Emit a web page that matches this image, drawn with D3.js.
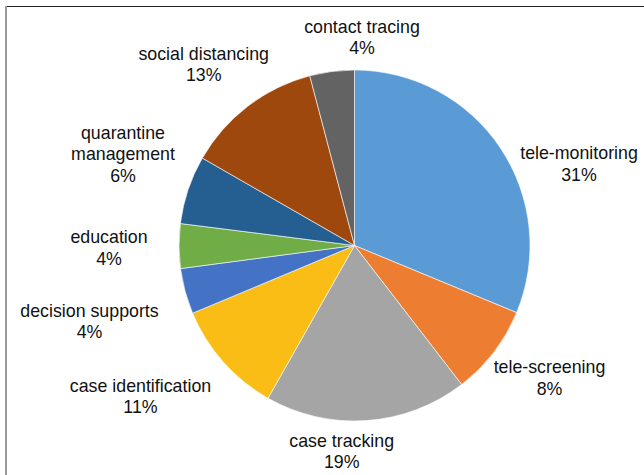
<!DOCTYPE html>
<html>
<head>
<meta charset="utf-8">
<script src="https://cdn.jsdelivr.net/npm/d3@7"></script>
<style>
  html, body { margin: 0; padding: 0; background: #fff; }
  svg { display: block; }
</style>
</head>
<body>
<svg id="chart" width="644" height="475"></svg>
<script>
// ---- data ----
const categories = ["tele-monitoring", "tele-screening", "case tracking", "case identification",
  "decision supports", "education", "quarantine management", "social distancing", "contact tracing"];
const shares = [31.25, 8.3, 18.65, 10.5, 4.2, 4.1, 6.3, 12.6, 4.1];
const shareLabels = ["31%", "8%", "19%", "11%", "4%", "4%", "6%", "13%", "4%"];
const colors = ["#5B9BD5", "#ED7D31", "#A5A5A5", "#F9BD16", "#4472C4", "#70AD47", "#255E91", "#9E480E", "#636363"];
// label text lines (category names may wrap)
const labelLines = [["tele-monitoring"], ["tele-screening"], ["case tracking"], ["case identification"],
  ["decision supports"], ["education"], ["quarantine", "management"], ["social distancing"], ["contact tracing"]];

// ---- layout ----
const W = 644, H = 475;
const cx = 354.5, cy = 245.5, R = 175.5;
const labelAnchor = [[579, 159], [549.5, 373], [341.7, 446.5], [140.5, 391.5], [89.5, 316.5],
  [109, 243], [123, 138.5], [203.7, 59.5], [362, 32.5]];
const lineH = 21.6;

const svg = d3.select("#chart");
svg.append("rect").attr("width", W).attr("height", H).attr("fill", "#fff");

// frame
svg.append("line").attr("x1", 5).attr("x2", W).attr("y1", 6.5).attr("y2", 6.5)
  .attr("stroke", "#222").attr("stroke-width", 1.2);
svg.append("line").attr("x1", 6).attr("x2", 6).attr("y1", 6).attr("y2", H)
  .attr("stroke", "#999").attr("stroke-width", 2);

const data = categories.map((c, i) => ({ name: c, value: shares[i], label: shareLabels[i], color: colors[i], i }));

const pie = d3.pie().value(d => d.value).sort(null).startAngle(0).endAngle(2 * Math.PI);
const arc = d3.arc().innerRadius(0).outerRadius(R);

const g = svg.append("g").attr("transform", `translate(${cx},${cy})`);
g.selectAll("path").data(pie(data)).join("path")
  .attr("d", arc)
  .attr("fill", d => d.data.color)
  .attr("stroke", "#fff")
  .attr("stroke-width", 0.6)
  .attr("stroke-linejoin", "round");

// labels
const lg = svg.append("g")
  .attr("font-family", "'Liberation Sans', Arial, sans-serif")
  .attr("font-size", 17.8)
  .attr("fill", "#111")
  .attr("text-anchor", "middle");

data.forEach((d, i) => {
  const [x, y] = labelAnchor[i];
  const t = lg.append("text").attr("x", x).attr("y", y);
  const lines = labelLines[i].concat([d.label]);
  lines.forEach((ln, k) => {
    t.append("tspan").attr("x", x).attr("y", y + k * lineH).text(ln);
  });
});
</script>
</body>
</html>
